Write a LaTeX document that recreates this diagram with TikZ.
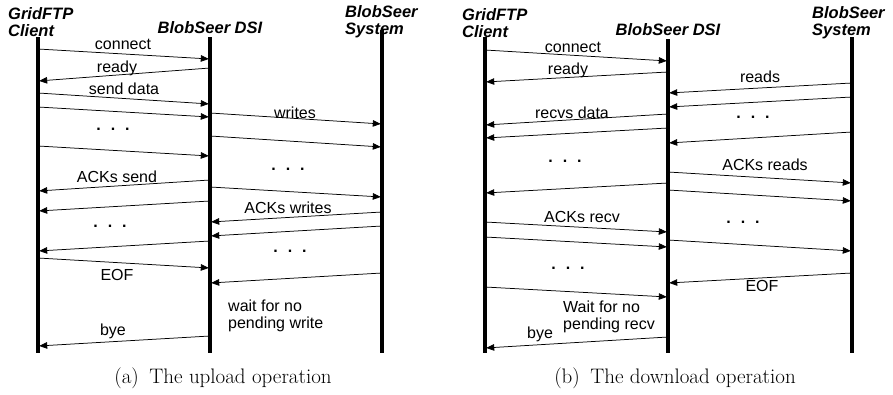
\documentclass[tikz,border=0pt]{standalone}
\usepackage{fontspec}
\usepackage{tikz}
\usetikzlibrary{arrows.meta}
\newfontfamily\arialfont{Liberation Sans}
\tikzstyle{life} = [line width=3.2pt]
\tikzstyle{msg} = [line width=0.75pt,-{Triangle[length=8pt,width=6.5pt]},shorten >=1.2pt]
\tikzstyle{head} = [font=\arialfont\bfseries\itshape\fontsize{16.5}{17}\selectfont, align=left, inner sep=0pt]
\tikzstyle{lbl} = [font=\arialfont\fontsize{16}{17}\selectfont, align=left, inner sep=0pt]
\tikzstyle{capt} = [font=\fontsize{21}{24}\selectfont, inner sep=0pt]
\newcommand{\threedots}{\bfseries .\hspace{10pt}.\hspace{10pt}.}

\begin{document}
\begin{tikzpicture}[x=1pt,y=-1pt]
\useasboundingbox (0,0) rectangle (893,394);

\node (hcliU) [head, anchor=west] at (8,22) {GridFTP\\Client};
\node (hdsiU) [head] at (210,28) {BlobSeer DSI};
\node (hsysU) [head, anchor=west] at (345,22) {BlobSeer\\System};
\coordinate (cliU) at (38,37);
\coordinate (dsiU) at (210,37);
\coordinate (sysU) at (382,30);
\draw [life] (cliU) -- (cliU |- 0,353);
\draw [life] (dsiU) -- (dsiU |- 0,353);
\draw [life] (sysU) -- (sysU |- 0,353);

\draw [msg] (cliU |- 0,49) -- (dsiU |- 0,59);
\draw [msg] (dsiU |- 0,68) -- (cliU |- 0,81);
\draw [msg] (cliU |- 0,93) -- (dsiU |- 0,104);
\draw [msg] (cliU |- 0,107) -- (dsiU |- 0,117);
\draw [msg] (dsiU |- 0,113) -- (sysU |- 0,124);
\draw [msg] (dsiU |- 0,136) -- (sysU |- 0,147);
\draw [msg] (cliU |- 0,146) -- (dsiU |- 0,156);
\draw [msg] (dsiU |- 0,180) -- (cliU |- 0,191);
\draw [msg] (dsiU |- 0,187) -- (sysU |- 0,197);
\draw [msg] (dsiU |- 0,201) -- (cliU |- 0,211);
\draw [msg] (sysU |- 0,212) -- (dsiU |- 0,222);
\draw [msg] (sysU |- 0,226) -- (dsiU |- 0,236);
\draw [msg] (dsiU |- 0,241) -- (cliU |- 0,251);
\draw [msg] (cliU |- 0,258) -- (dsiU |- 0,268);
\draw [msg] (sysU |- 0,273) -- (dsiU |- 0,283);
\draw [msg] (dsiU |- 0,336) -- (cliU |- 0,346);

\node (lconnU) [lbl] at (123,44) {connect};
\node (lreadyU) [lbl] at (117,68) {ready};
\node (lsendU) [lbl] at (124,89) {send data};
\node (lwritesU) [lbl] at (295,113) {writes};
\node (ldotsU1) [lbl] at (113,129) {\threedots};
\node (ldotsU2) [lbl] at (288,169) {\threedots};
\node (lackU) [lbl] at (117,177) {ACKs send};
\node (lackwU) [lbl] at (288,208) {ACKs writes};
\node (ldotsU3) [lbl] at (110,226) {\threedots};
\node (ldotsU4) [lbl] at (290,251) {\threedots};
\node (leofU) [lbl] at (117,275) {EOF};
\node (lwaitU) [lbl, anchor=west] at (228,316) {wait for no\\pending write};
\node (lbyeU) [lbl] at (113,331) {bye};
\node (captU) [capt] at (223,378) {(a)\enspace The upload operation};

\node (hcliD) [head, anchor=west] at (462,23) {GridFTP\\Client};
\node (hdsiD) [head] at (668,30) {BlobSeer DSI};
\node (hsysD) [head, anchor=west] at (812,23) {BlobSeer\\System};
\coordinate (cliD) at (485,37);
\coordinate (dsiD) at (668,39);
\coordinate (sysD) at (852,37);
\draw [life] (cliD) -- (cliD |- 0,353);
\draw [life] (dsiD) -- (dsiD |- 0,353);
\draw [life] (sysD) -- (sysD |- 0,353);

\draw [msg] (cliD |- 0,50) -- (dsiD |- 0,61);
\draw [msg] (dsiD |- 0,72) -- (cliD |- 0,82);
\draw [msg] (sysD |- 0,83) -- (dsiD |- 0,93);
\draw [msg] (sysD |- 0,97) -- (dsiD |- 0,107);
\draw [msg] (dsiD |- 0,114) -- (cliD |- 0,125);
\draw [msg] (dsiD |- 0,128) -- (cliD |- 0,138);
\draw [msg] (sysD |- 0,132) -- (dsiD |- 0,143);
\draw [msg] (dsiD |- 0,172) -- (sysD |- 0,183);
\draw [msg] (dsiD |- 0,183) -- (cliD |- 0,193);
\draw [msg] (dsiD |- 0,190) -- (sysD |- 0,201);
\draw [msg] (cliD |- 0,222) -- (dsiD |- 0,232);
\draw [msg] (cliD |- 0,237) -- (dsiD |- 0,247);
\draw [msg] (dsiD |- 0,240) -- (sysD |- 0,251);
\draw [msg] (sysD |- 0,273) -- (dsiD |- 0,283);
\draw [msg] (cliD |- 0,287) -- (dsiD |- 0,297);
\draw [msg] (dsiD |- 0,337) -- (cliD |- 0,348);

\node (lconnD) [lbl] at (573,47) {connect};
\node (lreadyD) [lbl] at (568,70) {ready};
\node (lreadsD) [lbl] at (760,77) {reads};
\node (lrecvsD) [lbl] at (572,113) {recvs data};
\node (ldotsD1) [lbl] at (753,117) {\threedots};
\node (ldotsD2) [lbl] at (565,161) {\threedots};
\node (lackrD) [lbl] at (765,165) {ACKs reads};
\node (lackD) [lbl] at (582,217) {ACKs recv};
\node (ldotsD3) [lbl] at (743,222) {\threedots};
\node (ldotsD4) [lbl] at (568,268) {\threedots};
\node (leofD) [lbl] at (762,286) {EOF};
\node (lwaitD) [lbl, anchor=west] at (563,317) {Wait for no\\pending recv};
\node (lbyeD) [lbl] at (540,334) {bye};
\node (captD) [capt] at (675,378) {(b)\enspace The download operation};
\end{tikzpicture}
\end{document}
